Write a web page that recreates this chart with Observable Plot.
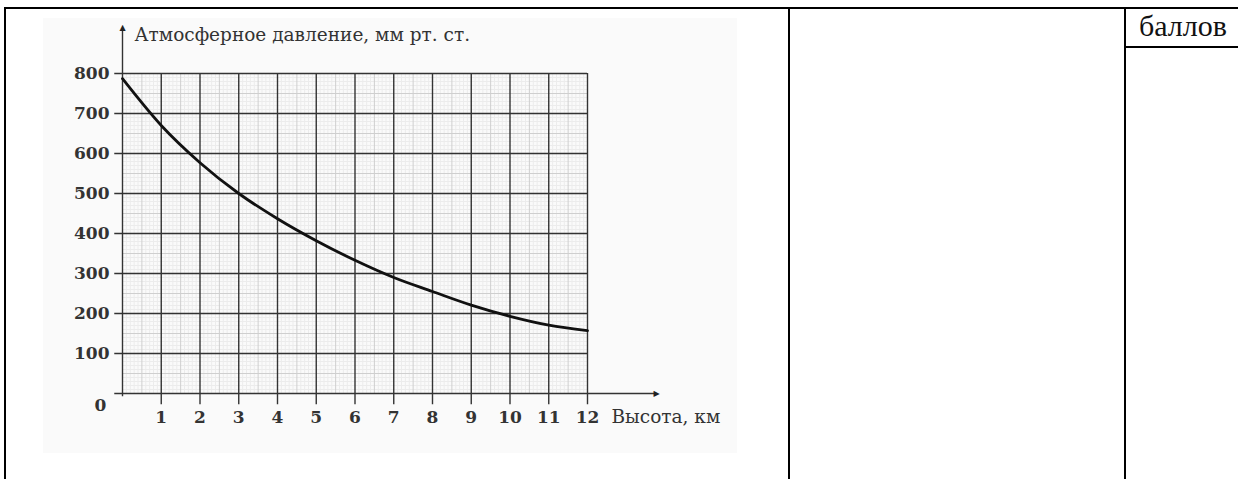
<!DOCTYPE html>
<html>
<head>
<meta charset="utf-8">
<script src="https://cdn.jsdelivr.net/npm/d3@7"></script>
<script src="https://cdn.jsdelivr.net/npm/@observablehq/plot@0.6"></script>
<style>
  html, body { margin: 0; padding: 0; background: #fff; width: 1238px; height: 479px; overflow: hidden; }
  .ln { position: absolute; background: #000; }
  #scan { position: absolute; left: 43px; top: 18px; width: 694px; height: 435px; background: #fafafa; }
  #chart { position: absolute; left: 0; top: 0; }
  #points { position: absolute; left: 1139px; top: 8px; font-family: "Times New Roman", "Liberation Serif", Times, serif; font-size: 30px; line-height: 36px; color: #111; }
</style>
</head>
<body>
<div id="scan"></div>
<div class="ln" style="left:4px; top:7px; width:1234px; height:2px;"></div>
<div class="ln" style="left:4px; top:7px; width:2px; height:472px;"></div>
<div class="ln" style="left:788px; top:7px; width:2px; height:472px;"></div>
<div class="ln" style="left:1124px; top:7px; width:2px; height:472px;"></div>
<div class="ln" style="left:1124px; top:46px; width:114px; height:2px;"></div>
<div id="points">баллов</div>
<div id="chart"></div>
<script>
// Data
const heights = [0, 1, 2, 3, 4, 5, 6, 7, 8, 9, 10, 11, 12];
const pressure = [787, 670, 577, 500, 437, 382, 333, 290, 255, 221, 193, 171, 157];
const xTicks = [1, 2, 3, 4, 5, 6, 7, 8, 9, 10, 11, 12];
const yTicks = [100, 200, 300, 400, 500, 600, 700, 800];
const yTitle = "Атмосферное давление, мм рт. ст.";
const xTitle = "Высота, км";

const series = heights.map((h, i) => ({h, p: pressure[i]}));
const minorX = d3.range(1, 120).map(i => i / 10).filter((v, i) => (i + 1) % 5 !== 0);
const midX = d3.range(0, 12).map(i => i + 0.5);
const minorY = d3.range(1, 80).map(i => i * 10).filter(v => v % 50 !== 0);
const midY = d3.range(0, 8).map(i => i * 100 + 50);

const font = "DejaVu Serif";
const chart = Plot.plot({
  width: 760,
  height: 470,
  marginLeft: 122,
  marginRight: 173,
  marginTop: 73,
  marginBottom: 77,
  x: {domain: [0, 12], axis: null},
  y: {domain: [0, 800], axis: null},
  style: {background: "transparent", overflow: "visible", fontFamily: font},
  marks: [
    Plot.ruleX(minorX, {y1: 0, y2: 800, stroke: "#ececec", strokeWidth: 1}),
    Plot.ruleY(minorY, {x1: 0, x2: 12, stroke: "#ececec", strokeWidth: 1}),
    Plot.ruleX(midX, {y1: 0, y2: 800, stroke: "#cfcfcf", strokeWidth: 1}),
    Plot.ruleY(midY, {x1: 0, x2: 12, stroke: "#cfcfcf", strokeWidth: 1}),
    Plot.ruleX(xTicks, {y1: -28, y2: 800, stroke: "#333", strokeWidth: 1.4}),
    Plot.ruleY(yTicks, {x1: -0.2, x2: 12, stroke: "#333", strokeWidth: 1.4}),
    Plot.ruleX([0], {y1: -8, y2: 910, stroke: "#333", strokeWidth: 1.4}),
    Plot.ruleY([0], {x1: -0.2, x2: 13.75, stroke: "#333", strokeWidth: 1.4}),
    Plot.text(["▲"], {x: 0, y: 915, fontSize: 8, fill: "#222"}),
    Plot.text(["▶"], {x: 13.78, y: 0, fontSize: 8, fill: "#222"}),
    Plot.line(series, {x: "h", y: "p", curve: "monotone-x", stroke: "#111", strokeWidth: 2.8}),
    Plot.text(yTicks, {x: 0, y: d => d, text: d => String(d), dx: -13, textAnchor: "end", fontSize: 17, fontWeight: "bold", fill: "#333"}),
    Plot.text(["0"], {x: 0, y: 0, dx: -22, dy: 12, fontSize: 17, fontWeight: "bold", fill: "#333"}),
    Plot.text(xTicks, {x: d => d, y: 0, text: d => String(d), dy: 24, fontSize: 17, fontWeight: "bold", fill: "#333"}),
    Plot.text([xTitle], {x: 12, y: 0, dx: 24, dy: 24, textAnchor: "start", fontSize: 18.5, fill: "#333"}),
    Plot.text([yTitle], {x: 0, y: 800, dx: 12, dy: -38, textAnchor: "start", fontSize: 18.5, fill: "#333"})
  ]
});
document.getElementById("chart").appendChild(chart);
</script>
</body>
</html>
